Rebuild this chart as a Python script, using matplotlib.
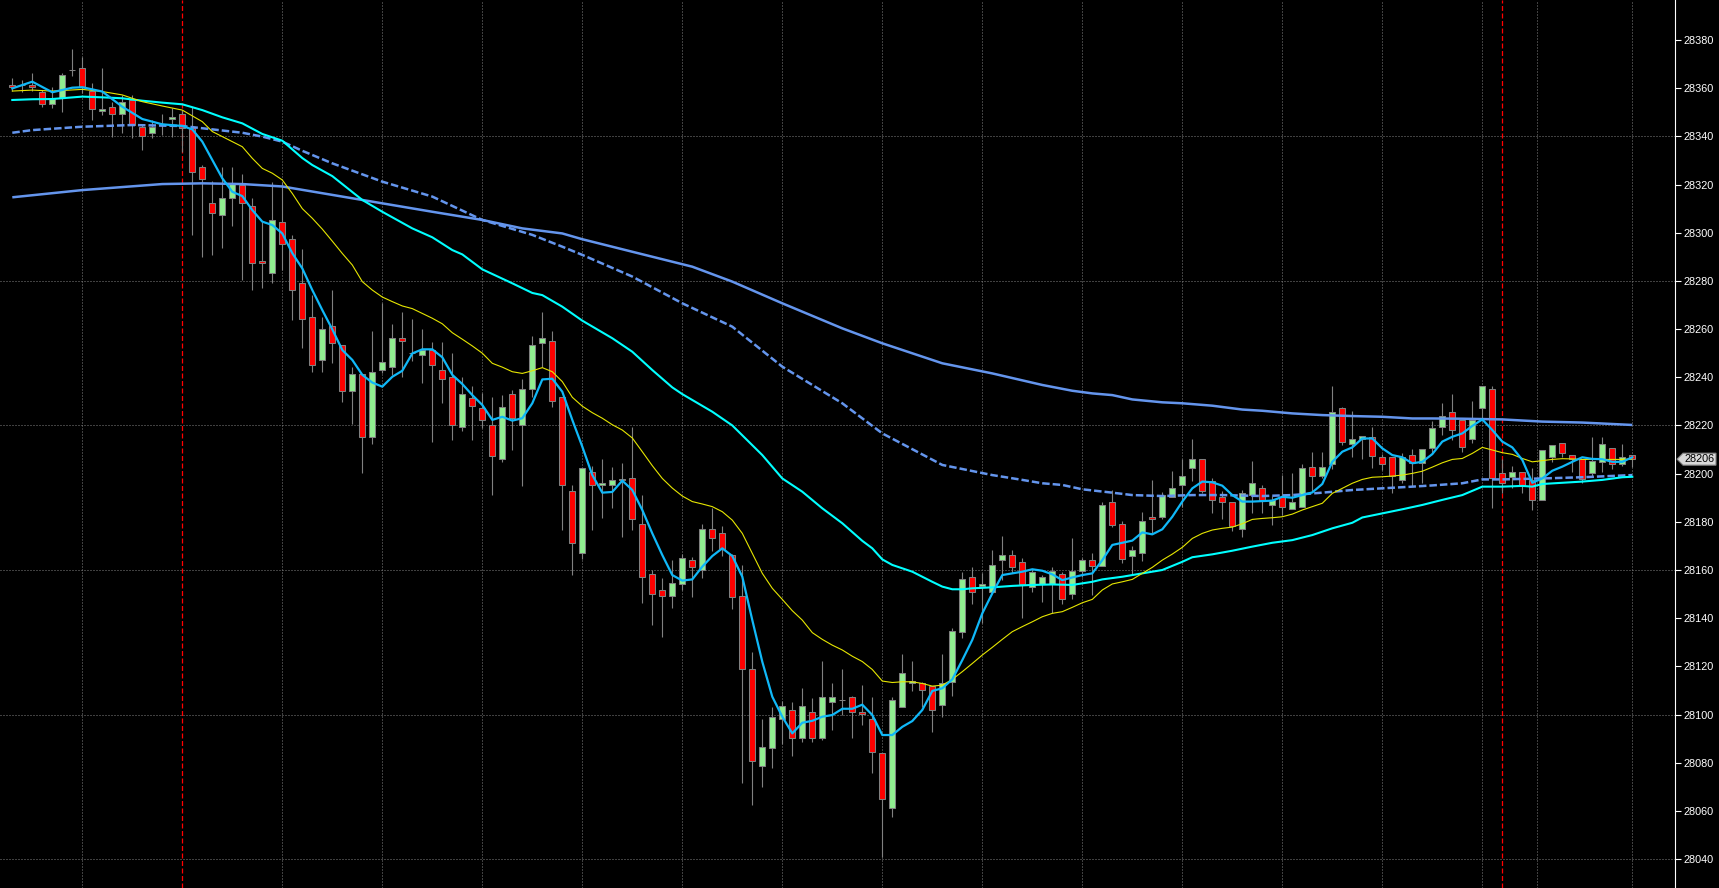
import matplotlib
matplotlib.use("Agg")
import matplotlib.pyplot as plt
from matplotlib.patches import Polygon
import numpy as np

# OHLC, one entry per bar (oldest first)
opens = [28361.2, 28361.3, 28361.2, 28358.6, 28353.4, 28355.8, 28367.4, 28368.2, 28358.8, 28350.4,
         28352.0, 28349.3, 28355.1, 28344.0, 28341.3, 28344.7, 28347.1, 28349.1, 28343.3, 28327.4,
         28312.2, 28307.4, 28314.3, 28319.8, 28311.1, 28288.3, 28283.1, 28304.3, 28297.3, 28279.0,
         28265.1, 28247.2, 28261.3, 28253.3, 28234.2, 28241.2, 28215.1, 28242.9, 28244.1, 28256.2,
         28250.0, 28249.1, 28251.3, 28243.0, 28240.2, 28219.2, 28231.3, 28227.1, 28220.0, 28205.9,
         28232.9, 28220.0, 28235.0, 28254.1, 28254.9, 28231.9, 28192.9, 28166.9, 28200.8, 28195.1,
         28195.1, 28197.2, 28198.0, 28178.9, 28158.2, 28151.9, 28149.2, 28154.0, 28164.0, 28160.0,
         28176.9, 28175.2, 28166.2, 28149.2, 28118.7, 28078.8, 28086.0, 28098.0, 28101.7, 28090.1,
         28100.9, 28090.1, 28105.0, 28106.0, 28107.1, 28100.9, 28098.1, 28083.9, 28061.0, 28103.0,
         28113.0, 28112.9, 28111.8, 28103.8, 28113.6, 28134.1, 28156.9, 28153.5, 28151.0, 28164.1,
         28166.2, 28163.3, 28152.8, 28154.2, 28154.2, 28158.2, 28149.9, 28159.7, 28164.0, 28161.8,
         28188.2, 28179.1, 28165.9, 28166.9, 28182.0, 28181.8, 28190.4, 28195.1, 28202.2, 28205.9,
         28197.1, 28190.1, 28188.1, 28176.9, 28191.1, 28193.9, 28186.8, 28190.4, 28185.2, 28186.0,
         28202.9, 28199.0, 28204.0, 28227.1, 28212.3, 28214.2, 28215.1, 28207.0, 28207.0, 28197.4,
         28207.7, 28204.5, 28210.5, 28219.5, 28225.7, 28222.2, 28214.2, 28227.1, 28235.0, 28200.1,
         28198.7, 28200.8, 28197.4, 28189.1, 28207.0, 28212.9, 28207.7, 28205.9, 28200.1, 28205.0,
         28210.8, 28204.0, 28207.8]
highs = [28364.1, 28363.4, 28366.2, 28359.2, 28360.6, 28366.2, 28376.1, 28373.1, 28362.0, 28368.2,
         28354.4, 28357.2, 28357.2, 28344.7, 28346.8, 28349.3, 28351.6, 28351.0, 28352.3, 28328.1,
         28321.6, 28327.4, 28327.4, 28324.4, 28314.3, 28304.6, 28321.2, 28321.2, 28299.0, 28293.1,
         28274.1, 28265.0, 28276.2, 28253.5, 28244.4, 28241.5, 28259.3, 28271.0, 28262.1, 28267.2,
         28264.2, 28259.9, 28254.8, 28254.8, 28249.9, 28240.2, 28236.5, 28233.3, 28231.9, 28232.6,
         28234.7, 28239.1, 28257.1, 28267.0, 28259.2, 28232.0, 28195.3, 28202.5, 28203.3, 28205.9,
         28202.9, 28204.3, 28219.5, 28191.1, 28160.0, 28156.5, 28164.1, 28166.5, 28165.2, 28179.1,
         28185.6, 28178.2, 28166.5, 28162.0, 28125.8, 28098.1, 28103.3, 28105.8, 28105.3, 28110.9,
         28106.7, 28122.2, 28113.2, 28118.9, 28107.5, 28112.2, 28107.4, 28084.0, 28107.4, 28125.1,
         28122.2, 28113.6, 28112.0, 28125.1, 28135.8, 28159.0, 28161.1, 28158.6, 28168.3, 28174.1,
         28168.3, 28164.8, 28160.3, 28157.9, 28161.1, 28159.0, 28173.1, 28164.8, 28167.2, 28188.2,
         28193.2, 28180.3, 28170.0, 28184.1, 28197.4, 28192.4, 28201.1, 28205.9, 28214.4, 28206.0,
         28198.0, 28192.9, 28188.1, 28193.2, 28205.2, 28195.3, 28190.7, 28199.4, 28200.1, 28204.0,
         28209.0, 28209.0, 28236.4, 28227.8, 28226.1, 28215.6, 28219.2, 28208.0, 28207.0, 28208.4,
         28210.1, 28210.1, 28222.0, 28229.2, 28233.0, 28222.2, 28230.1, 28236.4, 28236.4, 28206.2,
         28203.2, 28200.8, 28202.2, 28209.8, 28211.9, 28212.9, 28207.7, 28205.9, 28215.0, 28215.0,
         28210.8, 28212.3, 28207.8]
lows = [28359.0, 28358.6, 28359.0, 28352.3, 28351.9, 28350.3, 28365.2, 28358.0, 28346.8, 28349.0,
        28339.9, 28341.3, 28339.2, 28334.3, 28339.2, 28340.6, 28339.9, 28333.6, 28299.1, 28290.1,
        28290.8, 28293.5, 28302.9, 28280.4, 28276.2, 28276.9, 28279.0, 28284.5, 28263.8, 28252.0,
        28242.1, 28242.1, 28246.1, 28229.7, 28220.6, 28200.1, 28212.2, 28241.6, 28241.0, 28240.0,
        28246.9, 28237.8, 28213.0, 28229.2, 28213.9, 28217.8, 28214.0, 28218.8, 28191.0, 28205.0,
        28209.8, 28195.0, 28232.0, 28244.4, 28227.8, 28176.6, 28157.9, 28164.4, 28176.6, 28181.7,
        28185.6, 28173.8, 28176.6, 28146.2, 28137.2, 28132.3, 28144.1, 28151.5, 28148.9, 28156.8,
        28168.0, 28165.8, 28143.7, 28071.7, 28062.4, 28069.8, 28077.9, 28087.8, 28082.9, 28088.7,
        28088.7, 28089.5, 28093.6, 28100.0, 28090.1, 28095.6, 28075.9, 28041.0, 28057.6, 28103.0,
        28109.9, 28103.3, 28092.9, 28098.8, 28107.7, 28131.9, 28145.9, 28138.0, 28151.0, 28155.8,
        28158.6, 28139.9, 28151.0, 28146.8, 28142.0, 28146.0, 28147.8, 28157.2, 28149.6, 28161.8,
        28178.0, 28163.0, 28157.9, 28163.7, 28175.2, 28181.0, 28190.4, 28186.0, 28197.1, 28191.8,
        28183.8, 28181.0, 28176.3, 28173.8, 28183.8, 28183.8, 28178.7, 28182.8, 28185.2, 28186.0,
        28192.5, 28198.0, 28202.0, 28211.9, 28207.0, 28205.9, 28202.2, 28201.5, 28192.1, 28196.0,
        28194.9, 28196.0, 28208.0, 28216.0, 28214.0, 28208.8, 28212.6, 28222.0, 28185.9, 28192.0,
        28193.9, 28192.1, 28184.9, 28189.1, 28205.0, 28207.0, 28200.8, 28196.0, 28199.0, 28200.8,
        28202.0, 28203.2, 28202.6]
closes = [28360.4, 28361.3, 28360.4, 28353.4, 28355.5, 28365.5, 28367.4, 28360.4, 28351.2, 28351.4,
          28349.3, 28354.1, 28344.7, 28340.1, 28344.0, 28344.7, 28348.2, 28343.3, 28325.1, 28322.2,
          28308.0, 28314.3, 28320.2, 28312.2, 28287.3, 28287.3, 28305.3, 28295.3, 28276.2, 28264.0,
          28245.0, 28259.9, 28254.1, 28234.2, 28241.2, 28215.1, 28242.1, 28246.2, 28256.2, 28254.9,
          28250.0, 28251.3, 28245.0, 28239.1, 28220.2, 28232.9, 28228.1, 28222.3, 28207.3, 28227.8,
          28223.0, 28235.0, 28253.2, 28256.2, 28230.0, 28195.1, 28171.0, 28202.2, 28195.1, 28196.0,
          28197.2, 28197.6, 28181.0, 28156.9, 28149.9, 28149.2, 28154.8, 28164.8, 28161.1, 28176.9,
          28173.1, 28168.6, 28148.9, 28118.7, 28080.8, 28086.6, 28098.8, 28103.7, 28090.1, 28103.7,
          28090.1, 28107.1, 28107.1, 28106.0, 28101.2, 28100.1, 28084.6, 28064.8, 28106.0, 28117.1,
          28113.8, 28110.2, 28101.9, 28112.9, 28134.8, 28156.1, 28151.0, 28154.0, 28162.1, 28166.2,
          28161.1, 28154.2, 28159.0, 28156.9, 28159.7, 28147.8, 28159.7, 28164.0, 28161.8, 28186.8,
          28178.7, 28164.7, 28168.2, 28180.2, 28181.0, 28191.0, 28193.9, 28198.9, 28206.0, 28192.9,
          28189.1, 28188.1, 28178.2, 28192.1, 28196.0, 28189.1, 28189.1, 28186.0, 28188.1, 28202.2,
          28199.0, 28202.9, 28225.7, 28213.3, 28214.2, 28215.6, 28207.3, 28204.0, 28199.0, 28207.0,
          28204.5, 28210.1, 28219.1, 28224.0, 28218.1, 28210.9, 28222.2, 28236.4, 28198.0, 28196.0,
          28200.8, 28195.3, 28189.1, 28209.8, 28211.9, 28208.7, 28205.9, 28197.6, 28205.4, 28212.2,
          28203.9, 28207.0, 28206.0]

# moving average lines, read at sample bars
fast_x = [0, 2, 4, 6, 7, 9, 11, 13, 15, 17, 18, 19, 20, 21, 22, 23, 24, 25, 26, 27,
          28, 29, 30, 31, 32, 33, 34, 35, 36, 37, 38, 39, 40, 41, 42, 43, 44, 45, 46, 47,
          48, 49, 50, 51, 52, 53, 54, 55, 56, 57, 58, 59, 60, 61, 62, 63, 64, 65, 66, 67,
          68, 69, 70, 71, 72, 73, 74, 75, 76, 77, 78, 79, 80, 81, 82, 83, 84, 85, 86, 87,
          88, 89, 90, 91, 92, 93, 94, 95, 96, 97, 98, 99, 100, 101, 102, 103, 104, 105, 106, 107,
          108, 109, 110, 111, 112, 113, 114, 115, 116, 117, 118, 119, 120, 121, 122, 123, 124, 125, 126, 127,
          128, 129, 130, 131, 132, 133, 134, 135, 136, 137, 138, 139, 140, 141, 142, 143, 144, 145, 146, 147,
          148, 149, 150, 151, 152, 153, 154, 155, 156, 157, 158, 159, 160, 161, 162]
fast_y = [28359.9, 28362.7, 28358.3, 28360.2, 28360.4, 28358.6, 28352.3, 28347.2, 28345.0, 28344.3,
          28342.9, 28337.8, 28330.2, 28322.6, 28317.0, 28315.2, 28309.4, 28304.6, 28303.2, 28299.7,
          28291.5, 28285.2, 28276.2, 28267.9, 28259.9, 28251.3, 28247.2, 28241.0, 28237.8, 28236.1,
          28240.2, 28242.7, 28249.9, 28251.6, 28251.6, 28248.3, 28241.0, 28237.2, 28232.6, 28228.5,
          28222.3, 28223.6, 28222.0, 28223.0, 28229.2, 28239.1, 28239.4, 28234.0, 28222.3, 28211.2,
          28199.4, 28192.1, 28192.4, 28197.1, 28193.2, 28184.9, 28175.2, 28166.2, 28157.9, 28155.6,
          28156.1, 28161.4, 28165.8, 28169.0, 28165.8, 28157.2, 28139.2, 28121.9, 28107.4, 28099.1,
          28092.2, 28096.6, 28097.4, 28099.1, 28099.8, 28102.4, 28102.4, 28104.1, 28099.8, 28091.5,
          28091.5, 28094.9, 28097.3, 28101.9, 28109.8, 28110.9, 28114.6, 28122.6, 28131.0, 28142.0,
          28150.3, 28157.9, 28158.6, 28159.3, 28160.3, 28159.7, 28158.2, 28155.8, 28156.9, 28157.9,
          28158.6, 28164.1, 28170.4, 28171.3, 28172.2, 28175.6, 28174.8, 28176.9, 28182.1, 28188.4,
          28193.9, 28196.7, 28196.4, 28195.0, 28191.1, 28188.4, 28188.4, 28188.6, 28188.8, 28190.4,
          28190.0, 28191.1, 28192.2, 28195.7, 28204.9, 28209.1, 28210.9, 28214.6, 28214.6, 28210.5,
          28207.7, 28206.8, 28204.3, 28204.9, 28208.1, 28213.3, 28215.3, 28216.7, 28219.8, 28222.5,
          28218.1, 28213.3, 28210.9, 28205.7, 28196.2, 28198.0, 28201.2, 28202.9, 28204.9, 28206.8,
          28206.1, 28206.0, 28204.9, 28204.9, 28206.8]

yellow_x = [0, 2, 4, 7, 9, 11, 13, 15, 17, 18, 19, 20, 21, 22, 23, 24, 25, 26, 27, 28,
            29, 30, 31, 32, 33, 34, 35, 36, 37, 38, 39, 40, 41, 42, 43, 44, 45, 46, 47, 48,
            49, 50, 51, 52, 53, 54, 55, 56, 57, 58, 59, 60, 61, 62, 63, 64, 65, 66, 67, 68,
            69, 70, 71, 72, 73, 74, 75, 76, 77, 78, 79, 80, 81, 82, 83, 84, 85, 86, 87, 88,
            89, 90, 91, 92, 93, 94, 95, 96, 97, 98, 99, 100, 101, 102, 103, 104, 105, 106, 107, 108,
            109, 110, 111, 112, 113, 114, 115, 116, 117, 118, 119, 120, 121, 122, 123, 124, 125, 126, 127, 128,
            129, 130, 131, 132, 133, 134, 135, 136, 137, 138, 139, 140, 141, 142, 143, 144, 145, 146, 147, 148,
            149, 150, 151, 152, 153, 154, 155, 156, 157, 158, 159, 160, 161, 162]
yellow_y = [28358.8, 28359.2, 28358.8, 28359.5, 28358.6, 28357.2, 28354.4, 28352.6, 28350.9, 28348.5,
            28346.1, 28342.0, 28339.9, 28337.8, 28335.7, 28330.9, 28326.7, 28324.7, 28321.9, 28316.3,
            28310.0, 28306.0, 28301.5, 28296.5, 28291.4, 28286.6, 28279.7, 28276.2, 28273.3, 28271.4,
            28269.6, 28268.5, 28266.5, 28264.5, 28262.2, 28258.5, 28255.8, 28253.0, 28250.0, 28245.8,
            28244.2, 28242.3, 28241.6, 28242.7, 28244.0, 28242.3, 28238.2, 28231.7, 28228.0, 28225.3,
            28223.0, 28220.3, 28218.1, 28214.8, 28209.1, 28203.3, 28198.0, 28194.0, 28190.7, 28188.4,
            28187.4, 28186.3, 28184.2, 28180.7, 28175.2, 28166.9, 28158.6, 28152.4, 28147.8, 28143.1,
            28139.2, 28134.0, 28131.2, 28128.8, 28126.8, 28124.2, 28122.0, 28118.7, 28113.9, 28113.3,
            28113.6, 28113.6, 28112.9, 28111.8, 28112.2, 28114.6, 28117.8, 28121.2, 28124.7, 28127.9,
            28131.2, 28134.4, 28136.5, 28138.5, 28140.6, 28142.0, 28142.7, 28144.5, 28146.4, 28147.8,
            28151.7, 28154.2, 28155.1, 28156.1, 28158.6, 28161.1, 28164.1, 28166.6, 28169.4, 28173.1,
            28175.2, 28176.6, 28177.3, 28177.8, 28179.2, 28181.0, 28181.4, 28181.7, 28182.1, 28183.2,
            28184.9, 28186.3, 28187.7, 28191.8, 28193.9, 28196.0, 28197.6, 28198.5, 28198.7, 28199.0,
            28199.4, 28200.1, 28201.0, 28202.7, 28204.5, 28205.9, 28206.3, 28208.4, 28210.9, 28209.8,
            28208.7, 28208.0, 28206.3, 28204.9, 28205.4, 28205.9, 28206.2, 28206.1, 28205.9, 28205.9,
            28205.9, 28205.9, 28205.9, 28206.1]

cyan_x = [0, 2, 4, 7, 9, 11, 13, 15, 17, 19, 21, 23, 25, 27, 29, 30, 32, 35, 37, 40,
          42, 44, 45, 47, 50, 52, 53, 55, 57, 60, 62, 64, 66, 67, 70, 72, 75, 77, 79, 81,
          83, 85, 86, 87, 88, 89, 90, 91, 92, 93, 94, 95, 96, 98, 100, 102, 104, 106, 108, 109,
          111, 113, 115, 117, 118, 120, 122, 124, 126, 128, 130, 131, 132, 134, 135, 137, 139, 141, 143, 145,
          147, 149, 151, 152, 153, 155, 157, 159, 161, 162]
cyan_y = [28355.1, 28355.4, 28355.5, 28356.5, 28356.2, 28355.8, 28354.8, 28354.0, 28353.3, 28350.9,
          28347.9, 28345.4, 28341.0, 28338.2, 28331.0, 28328.1, 28323.5, 28313.6, 28308.7, 28301.8,
          28298.1, 28292.8, 28291.0, 28284.8, 28279.0, 28275.0, 28274.1, 28269.3, 28263.5, 28256.2,
          28250.6, 28243.0, 28235.8, 28233.0, 28225.7, 28220.0, 28207.7, 28198.0, 28192.5, 28185.6,
          28179.4, 28172.1, 28169.0, 28164.4, 28162.1, 28160.7, 28159.3, 28157.2, 28155.1, 28153.1,
          28152.0, 28152.0, 28152.4, 28152.8, 28153.4, 28153.8, 28154.0, 28153.8, 28155.1, 28156.1,
          28157.2, 28158.6, 28160.0, 28163.4, 28165.3, 28166.5, 28168.0, 28169.7, 28171.3, 28172.4,
          28174.5, 28175.9, 28177.3, 28179.6, 28181.8, 28183.5, 28185.2, 28187.0, 28189.1, 28191.1,
          28194.6, 28194.6, 28194.9, 28194.6, 28195.7, 28196.2, 28196.7, 28197.4, 28198.5, 28198.7]

dashed_x = [0, 2, 7, 12, 17, 20, 23, 25, 27, 29, 32, 37, 42, 47, 52, 55, 57, 62, 67, 72,
            77, 83, 87, 93, 98, 101, 103, 105, 107, 110, 112, 115, 118, 121, 125, 128, 131, 134, 137, 140,
            142, 145, 147, 149, 153, 157, 162]
dashed_y = [28341.5, 28342.6, 28344.0, 28344.7, 28344.3, 28342.9, 28341.5, 28339.9, 28337.8, 28334.0,
            28328.8, 28321.2, 28315.0, 28305.3, 28299.1, 28294.2, 28290.8, 28281.8, 28270.7, 28261.0,
            28244.4, 28229.2, 28216.7, 28203.6, 28199.4, 28197.4, 28196.0, 28195.3, 28193.5, 28192.1,
            28191.1, 28190.7, 28191.1, 28191.1, 28190.7, 28191.1, 28192.1, 28193.2, 28193.9, 28194.6,
            28195.1, 28196.0, 28197.6, 28197.6, 28198.0, 28198.5, 28199.4]

slow_x = [0, 7, 15, 19, 23, 27, 31, 37, 42, 47, 51, 55, 57, 62, 68, 72, 77, 83, 87, 93,
          98, 103, 106, 108, 110, 112, 115, 117, 120, 123, 125, 128, 131, 134, 137, 140, 142, 145, 149, 153,
          157, 162]
slow_y = [28314.7, 28317.7, 28320.2, 28320.5, 28320.2, 28319.2, 28316.4, 28312.2, 28308.7, 28305.3,
          28301.8, 28299.7, 28297.3, 28292.1, 28285.9, 28279.7, 28270.7, 28260.3, 28254.1, 28245.8,
          28241.6, 28236.8, 28234.4, 28233.3, 28232.6, 28230.8, 28229.6, 28229.2, 28228.2, 28226.6,
          28226.1, 28225.0, 28224.3, 28223.9, 28223.6, 28222.9, 28222.9, 28222.8, 28222.5, 28221.6,
          28221.2, 28220.2]

y_ticks = list(range(28040, 28381, 20))
grid_prices = [28040, 28100, 28160, 28220, 28280, 28340]
grid_bars = [7, 27, 37, 47, 57, 67, 77, 87, 97, 107, 117, 127, 137, 147, 152.5, 162]
separator_bars = [17, 149]
last_price = 28206

fig = plt.figure(figsize=(17.19, 8.88), dpi=100, facecolor="black")
ax = fig.add_axes([0, 0, 1675 / 1719, 1])
ax.set_facecolor("black")

o = np.array(opens)
h = np.array(highs)
l = np.array(lows)
c = np.array(closes)
xs = np.arange(len(o))

# grid + day separators
for p in grid_prices:
    ax.axhline(p, color="#808080", lw=0.72, ls=(0, (1, 2)), zorder=1)
for b in grid_bars:
    ax.axvline(b, color="#808080", lw=0.72, ls=(0, (1, 2)), zorder=1)
for b in separator_bars:
    ax.axvline(b, color="#ff0000", lw=0.9, ls=(0, (4, 2)), zorder=1.5)

# candles
ax.vlines(xs, l, h, color="#808080", lw=0.8, zorder=2)
up = c >= o
body_col = np.where(up, "#90ee90", "#ff0000")
ax.bar(xs, np.abs(c - o), bottom=np.minimum(o, c), width=0.62,
       color=body_col, edgecolor="#808080", linewidth=0.75, zorder=3)

# moving averages
ax.plot(slow_x, slow_y, color="#6495ed", lw=1.8, zorder=4, solid_capstyle="butt")
ax.plot(dashed_x, dashed_y, color="#6495ed", lw=1.8, ls=(0, (3, 1.2)), zorder=4)
ax.plot(cyan_x, cyan_y, color="#00ffff", lw=1.5, zorder=4)
ax.plot(yellow_x, yellow_y, color="#e6e600", lw=0.8, zorder=4)
ax.plot(fast_x, fast_y, color="#10b8f8", lw=1.6, zorder=5)

ax.set_xlim(-1.23, 166.27)
ax.set_ylim(28028.0, 28396.6)

for s in ["left", "top", "bottom"]:
    ax.spines[s].set_visible(False)
ax.spines["right"].set_color("white")
ax.spines["right"].set_linewidth(0.8)
ax.set_xticks([])
ax.yaxis.tick_right()
ax.set_yticks(y_ticks)
ax.tick_params(axis="y", colors="white", length=4.5, width=0.8, pad=1.5,
               labelsize=7.8)
for t in ax.get_yticklabels():
    t.set_fontfamily("Liberation Sans")

# last price marker on the scale
tr = ax.get_yaxis_transform()
px = 1.0 / 1675
py = 1.0 / 2.409
box = [(1 + 2 * px, last_price), (1 + 8 * px, last_price + 6 * py),
       (1 + 41 * px, last_price + 6 * py), (1 + 41 * px, last_price - 6 * py),
       (1 + 8 * px, last_price - 6 * py)]
ax.add_patch(Polygon(box, closed=True, transform=tr, facecolor="#d8d8d8",
                     edgecolor="#808080", lw=0.8, clip_on=False, zorder=6))
ax.text(1 + 24.5 * px, last_price, str(last_price), transform=tr, color="black",
        fontsize=7.8, family="Liberation Sans", ha="center", va="center",
        clip_on=False, zorder=7)

fig.savefig("out.png", dpi=100, facecolor="black")
